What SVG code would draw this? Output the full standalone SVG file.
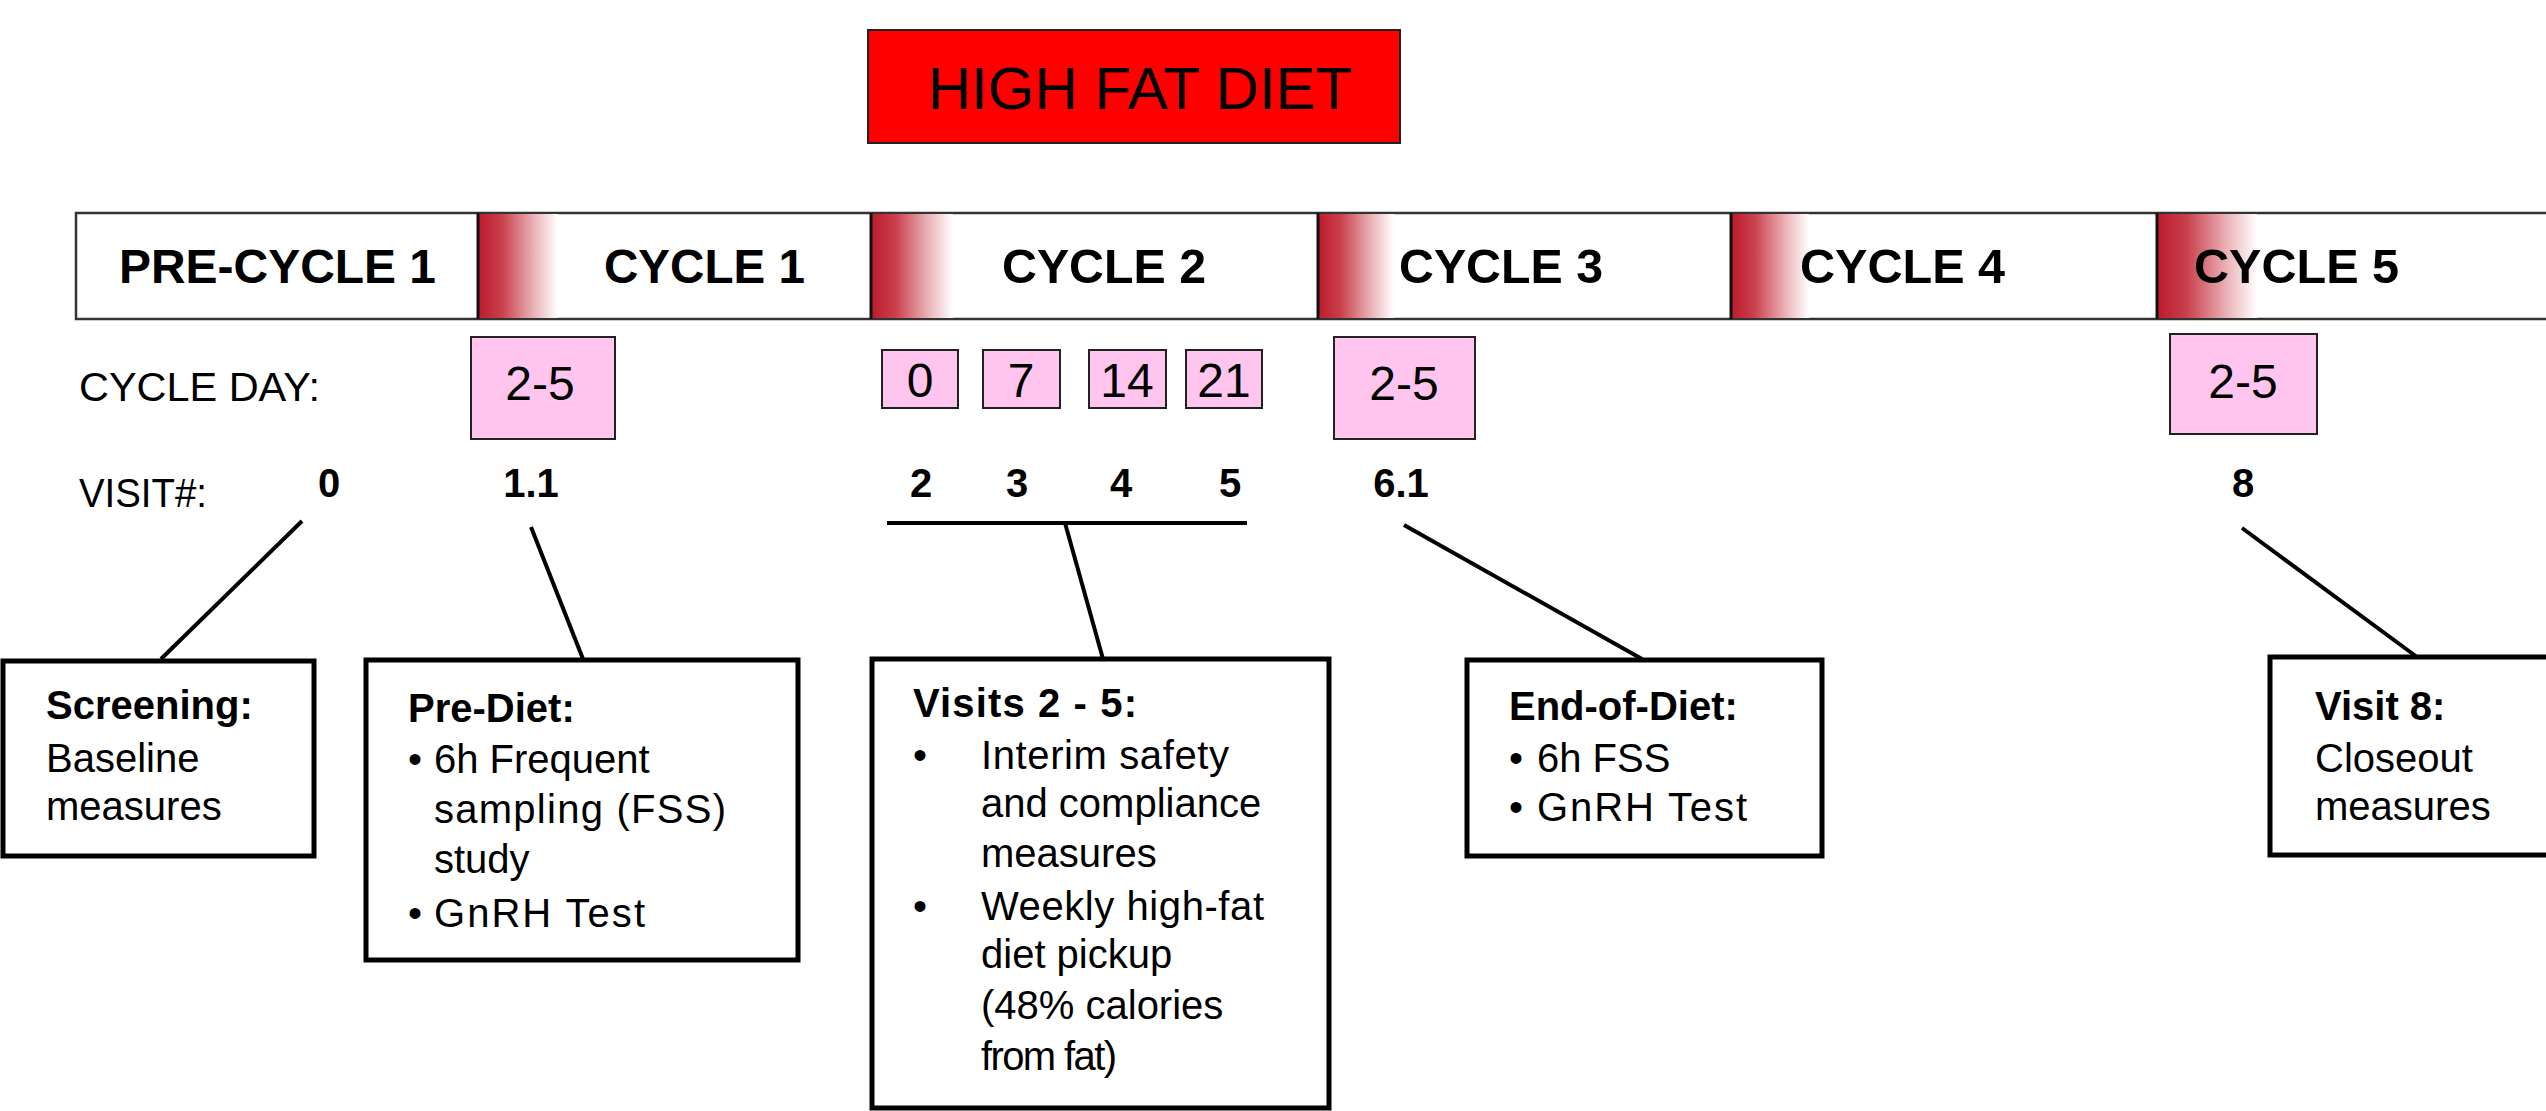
<svg xmlns="http://www.w3.org/2000/svg" width="2546" height="1111" viewBox="0 0 2546 1111">
<style>
text{font-family:"Liberation Sans",Arial,sans-serif;fill:#000}
.cyc{font-size:48px;font-weight:bold}
.lbl{font-size:40px}
.num{font-size:40px;font-weight:bold;text-anchor:middle}
.day{font-size:48px;text-anchor:middle}
.pink{fill:#ffc5ef;stroke:#222;stroke-width:2}
.box{fill:#fff;stroke:#000;stroke-width:5}
.t{font-size:40px}
.b{font-size:40px;font-weight:bold}
.conn line{stroke:#000;stroke-width:4}
.div{stroke:#111;stroke-width:3}
</style>
<defs>
<linearGradient id="fade" x1="0" y1="0" x2="1" y2="0">
<stop offset="0" stop-color="#bd1a2b"/>
<stop offset="0.3" stop-color="#c9404d"/>
<stop offset="0.7" stop-color="#eab3b8"/>
<stop offset="1" stop-color="#ffffff"/>
</linearGradient>
</defs>

<g id="diet-banner">
<rect x="868" y="30" width="532" height="113" fill="#ff0000" stroke="#222" stroke-width="2"/>
<text x="928" y="109" style="font-size:60px">HIGH FAT DIET</text>
</g>

<g id="timeline">
<rect x="76" y="213" width="2500" height="106" fill="#fff" stroke="#333" stroke-width="2.5"/>
<rect x="478" y="214" width="80" height="104" fill="url(#fade)"/>
<rect x="871" y="214" width="82" height="104" fill="url(#fade)"/>
<rect x="1318" y="214" width="76" height="104" fill="url(#fade)"/>
<rect x="1731" y="214" width="78" height="104" fill="url(#fade)"/>
<rect x="2157" y="214" width="100" height="104" fill="url(#fade)"/>
<line class="div" x1="478" y1="213" x2="478" y2="319"/>
<line class="div" x1="871" y1="213" x2="871" y2="319"/>
<line class="div" x1="1318" y1="213" x2="1318" y2="319"/>
<line class="div" x1="1731" y1="213" x2="1731" y2="319"/>
<line class="div" x1="2157" y1="213" x2="2157" y2="319"/>
<text class="cyc" x="119" y="283" textLength="317" lengthAdjust="spacingAndGlyphs">PRE-CYCLE 1</text>
<text class="cyc" x="604" y="283" textLength="201" lengthAdjust="spacingAndGlyphs">CYCLE 1</text>
<text class="cyc" x="1002" y="283" textLength="204" lengthAdjust="spacingAndGlyphs">CYCLE 2</text>
<text class="cyc" x="1399" y="283" textLength="204" lengthAdjust="spacingAndGlyphs">CYCLE 3</text>
<text class="cyc" x="1800" y="283" textLength="205" lengthAdjust="spacingAndGlyphs">CYCLE 4</text>
<text class="cyc" x="2194" y="283" textLength="205" lengthAdjust="spacingAndGlyphs">CYCLE 5</text>
</g>

<g id="row-labels">
<text class="lbl" x="79" y="401" textLength="241" lengthAdjust="spacingAndGlyphs">CYCLE DAY:</text>
<text class="lbl" x="79" y="507" textLength="128" lengthAdjust="spacingAndGlyphs">VISIT#:</text>
</g>

<g id="cycle-days">
<rect class="pink" x="471" y="337" width="144" height="102"/>
<text class="day" x="540" y="400">2-5</text>
<rect class="pink" x="882" y="350" width="76" height="58"/>
<text class="day" x="920" y="397">0</text>
<rect class="pink" x="983" y="350" width="77" height="58"/>
<text class="day" x="1021" y="397">7</text>
<rect class="pink" x="1089" y="350" width="77" height="58"/>
<text class="day" x="1127" y="397">14</text>
<rect class="pink" x="1186" y="350" width="76" height="58"/>
<text class="day" x="1224" y="397">21</text>
<rect class="pink" x="1334" y="337" width="141" height="102"/>
<text class="day" x="1404" y="400">2-5</text>
<rect class="pink" x="2170" y="334" width="147" height="100"/>
<text class="day" x="2243" y="398">2-5</text>
</g>

<g id="visit-numbers">
<text class="num" x="329" y="497">0</text>
<text class="num" x="531" y="497">1.1</text>
<text class="num" x="921" y="497">2</text>
<text class="num" x="1017" y="497">3</text>
<text class="num" x="1121" y="497">4</text>
<text class="num" x="1230" y="497">5</text>
<text class="num" x="1401" y="497">6.1</text>
<text class="num" x="2243" y="497">8</text>
</g>

<g id="connectors" class="conn">
<line x1="302" y1="521" x2="161" y2="659"/>
<line x1="531" y1="527" x2="583" y2="659"/>
<line x1="887" y1="523" x2="1247" y2="523"/>
<line x1="1065" y1="523" x2="1103" y2="659"/>
<line x1="1404" y1="525" x2="1642" y2="659"/>
<line x1="2242" y1="528" x2="2417" y2="657"/>
</g>

<g id="screening">
<rect class="box" x="3" y="661" width="311" height="195"/>
<text class="b" x="46" y="719">Screening:</text>
<text class="t" x="46" y="772">Baseline</text>
<text class="t" x="46" y="820">measures</text>
</g>

<g id="pre-diet">
<rect class="box" x="366" y="660" width="432" height="300"/>
<text class="b" x="408" y="722">Pre-Diet:</text>
<text class="t" x="408" y="773">•</text>
<text class="t" x="434" y="773">6h Frequent</text>
<text class="t" x="434" y="823" textLength="292" lengthAdjust="spacing">sampling (FSS)</text>
<text class="t" x="434" y="873">study</text>
<text class="t" x="408" y="927">•</text>
<text class="t" x="434" y="927" textLength="211" lengthAdjust="spacing">GnRH Test</text>
</g>

<g id="visits-2-5">
<rect class="box" x="872" y="659" width="457" height="449"/>
<text class="b" x="913" y="717" textLength="224" lengthAdjust="spacing">Visits 2 - 5:</text>
<text class="t" x="913" y="769">•</text>
<text class="t" x="981" y="769" textLength="248" lengthAdjust="spacing">Interim safety</text>
<text class="t" x="981" y="817">and compliance</text>
<text class="t" x="981" y="867">measures</text>
<text class="t" x="913" y="920">•</text>
<text class="t" x="981" y="920" textLength="283" lengthAdjust="spacing">Weekly high-fat</text>
<text class="t" x="981" y="968">diet pickup</text>
<text class="t" x="981" y="1019">(48% calories</text>
<text class="t" x="981" y="1070" textLength="136" lengthAdjust="spacing">from fat)</text>
</g>

<g id="end-of-diet">
<rect class="box" x="1467" y="660" width="355" height="196"/>
<text class="b" x="1509" y="720">End-of-Diet:</text>
<text class="t" x="1509" y="772">•</text>
<text class="t" x="1537" y="772">6h FSS</text>
<text class="t" x="1509" y="821">•</text>
<text class="t" x="1537" y="821" textLength="210" lengthAdjust="spacing">GnRH Test</text>
</g>

<g id="visit-8">
<rect class="box" x="2270" y="657" width="300" height="198"/>
<text class="b" x="2315" y="720">Visit 8:</text>
<text class="t" x="2315" y="772">Closeout</text>
<text class="t" x="2315" y="820">measures</text>
</g>
</svg>
